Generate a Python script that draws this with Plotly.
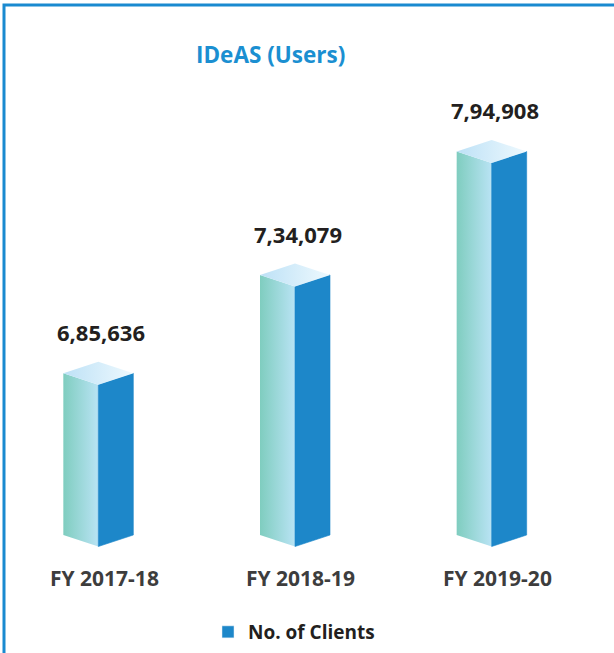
import plotly.graph_objects as go

# ---- data ----
categories = ["FY 2017-18", "FY 2018-19", "FY 2019-20"]
values = [685636, 734079, 794908]
value_labels = ["6,85,636", "7,34,079", "7,94,908"]
series_name = "No. of Clients"
title_text = "IDeAS (Users)"

# ---- styling / geometry ----
W, H = 614, 653
BASE = 606000                     # value at which bars start
Y_RANGE = [547900, 869500]        # value axis range (covers full height)
X_RANGE = [-0.5, 2.622]           # category axis range (covers full width)
ppx_x = W / (X_RANGE[1] - X_RANGE[0])     # px per x unit
ppx_y = H / (Y_RANGE[1] - Y_RANGE[0])     # px per y unit
HALF_W = 35 / ppx_x               # half bar width in x units
DEPTH = 11.5 / ppx_y              # diamond half height in y units
LABEL_GAP = 41 / ppx_y

LEFT_GRAD = [[0, "#7fcdbf"], [1, "#b9e3f4"]]
TOP_GRAD = [[0, "#bde1f6"], [1, "#eef9fe"]]
RIGHT_COL = "#1d87c9"

fig = go.Figure()

for i, v in enumerate(values):
    xc = i
    # left face
    fig.add_trace(go.Scatter(
        x=[xc - HALF_W, xc - HALF_W, xc, xc, xc - HALF_W],
        y=[BASE, v, v - DEPTH, BASE - DEPTH, BASE],
        mode="lines", line=dict(width=0), fill="toself",
        fillgradient=dict(type="horizontal", colorscale=LEFT_GRAD),
        showlegend=False, hoverinfo="skip"))
    # right face
    fig.add_trace(go.Scatter(
        x=[xc, xc, xc + HALF_W, xc + HALF_W, xc],
        y=[BASE - DEPTH, v - DEPTH, v, BASE, BASE - DEPTH],
        mode="lines", line=dict(width=0.6, color=RIGHT_COL), fill="toself",
        fillcolor=RIGHT_COL, showlegend=False, hoverinfo="skip"))
    # top face
    fig.add_trace(go.Scatter(
        x=[xc - HALF_W, xc, xc + HALF_W, xc, xc - HALF_W],
        y=[v, v + DEPTH, v, v - DEPTH, v],
        mode="lines", line=dict(width=0), fill="toself",
        fillgradient=dict(type="horizontal", colorscale=TOP_GRAD),
        showlegend=False, hoverinfo="skip"))
    # value label
    fig.add_annotation(x=xc + 0.015, y=v + LABEL_GAP, text=f"<b>{value_labels[i]}</b>",
                       showarrow=False, xanchor="center", yanchor="middle",
                       font=dict(family="Open Sans", size=22, color="#231f20"))
    # category label
    fig.add_annotation(x=xc + 0.03, y=1 - 578 / H, yref="paper", text=f"<b>{categories[i]}</b>",
                       showarrow=False, xanchor="center", yanchor="middle",
                       font=dict(family="Open Sans", size=21, color="#3d3d3d"))

# legend entry
fig.add_trace(go.Bar(x=[None], y=[None], name=series_name, marker_color=RIGHT_COL,
                     showlegend=True, hoverinfo="skip"))

# title
fig.add_annotation(x=270 / W, y=1 - 55 / H, xref="paper", yref="paper",
                   text=f"<b>{title_text}</b>", showarrow=False,
                   xanchor="center", yanchor="middle",
                   font=dict(family="Open Sans", size=22.5, color="#1b8fd1"))

# frame
fig.add_shape(type="rect", xref="paper", yref="paper",
              x0=4 / W, x1=1.05, y0=-0.05, y1=1 - 5 / H,
              line=dict(color="#1a8ad0", width=3))

fig.update_layout(
    width=W, height=H, autosize=False,
    margin=dict(l=0, r=0, t=0, b=0),
    paper_bgcolor="white", plot_bgcolor="white",
    xaxis=dict(range=X_RANGE, visible=False, fixedrange=True),
    yaxis=dict(range=Y_RANGE, visible=False, fixedrange=True),
    showlegend=True,
    legend=dict(orientation="h", x=208 / W, y=1 - 632 / H, xanchor="left", yanchor="middle",
                itemwidth=30,
                font=dict(family="Open Sans", size=19, color="#231f20", weight="bold"),
                bgcolor="rgba(0,0,0,0)"),
    hovermode=False,
)

fig.write_html("out.html", config={"displayModeBar": False},
               post_script="document.body.style.margin='0';")
